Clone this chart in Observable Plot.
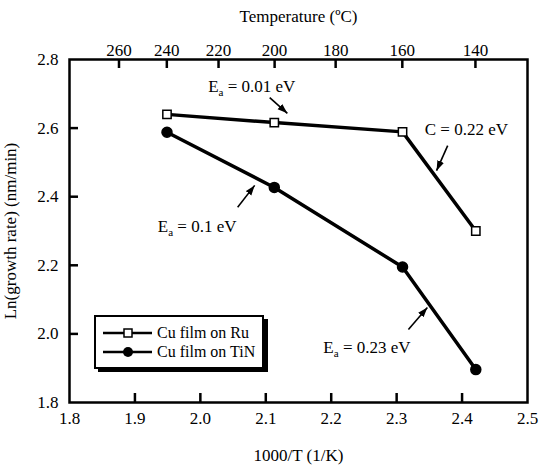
<!DOCTYPE html>
<html>
<head>
<meta charset="utf-8">
<script src="https://cdn.jsdelivr.net/npm/d3@7"></script>
<script src="https://cdn.jsdelivr.net/npm/@observablehq/plot@0.6"></script>
<style>
  html, body { margin: 0; padding: 0; background: #fff; }
  svg, svg text { font-family: "Liberation Serif", "DejaVu Serif", serif !important; }
</style>
</head>
<body>
<div id="chart"></div>
<script>
// ---- data ----
const invT = [1.949, 2.113, 2.309, 2.421];           // 1000/T (1/K)
const ruRate = [2.640, 2.616, 2.589, 2.300];          // Cu film on Ru
const tinRate = [2.588, 2.427, 2.195, 1.896];         // Cu film on TiN
const xTicks = [1.8, 1.9, 2.0, 2.1, 2.2, 2.3, 2.4, 2.5];
const yTicks = [1.8, 2.0, 2.2, 2.4, 2.6, 2.8];
const tempTicks = [260, 240, 220, 200, 180, 160, 140]; // ºC
const seriesNames = ["Cu film on Ru", "Cu film on TiN"];
const annotationText = ["Ea = 0.01 eV", "C = 0.22 eV", "Ea = 0.1 eV", "Ea = 0.23 eV"];
const annotationX = [2.012, 2.343, 1.935, 2.188];
const annotationY = [2.721, 2.596, 2.312, 1.960];
const arrowX1 = [2.106, 2.378, 2.057, 2.318];
const arrowY1 = [2.689, 2.549, 2.369, 2.013];
const arrowX2 = [2.133, 2.361, 2.083, 2.347];
const arrowY2 = [2.643, 2.476, 2.433, 2.077];

// derived tables
const ru = invT.map((x, i) => ({x, y: ruRate[i]}));
const tin = invT.map((x, i) => ({x, y: tinRate[i]}));
const tempX = tempTicks.map(c => 1000 / (c + 273.15));
const notes = annotationText.map((t, i) => ({t, x: annotationX[i], y: annotationY[i]}));
const arrows = arrowX1.map((x1, i) => ({x1, y1: arrowY1[i], x2: arrowX2[i], y2: arrowY2[i]}));

const W = 544, H = 470, ML = 69, MR = 17, MT = 59, MB = 68;
const PW = W - ML - MR, PH = H - MT - MB, TL = 9;
const innerX = xTicks.slice(1, -1), innerY = yTicks.slice(1, -1);
const FONT = "'Liberation Serif', 'DejaVu Serif', serif";
const ns = "http://www.w3.org/2000/svg";

// filled triangular arrowhead marker
function filledHead(color) {
  const m = document.createElementNS(ns, "marker");
  m.setAttribute("viewBox", "-10 -4 10 8");
  m.setAttribute("markerWidth", "10");
  m.setAttribute("markerHeight", "8");
  m.setAttribute("markerUnits", "userSpaceOnUse");
  m.setAttribute("orient", "auto");
  m.setAttribute("refX", "0");
  m.setAttribute("refY", "0");
  const p = document.createElementNS(ns, "path");
  p.setAttribute("d", "M-10,-3.5L0,0L-10,3.5Z");
  p.setAttribute("fill", color);
  p.setAttribute("stroke", "none");
  m.appendChild(p);
  return m;
}

const chart = Plot.plot({
  width: W, height: H,
  marginLeft: ML, marginRight: MR, marginTop: MT, marginBottom: MB,
  style: {fontFamily: FONT, fontSize: "17px", color: "#000", background: "#fff"},
  x: {domain: [1.8, 2.5]},
  y: {domain: [1.8, 2.8]},
  marks: [
    Plot.axisX({anchor: "bottom", ticks: xTicks, tickSize: 0, tickPadding: 9, tickFormat: d3.format(".1f"),
      fontSize: 17, fontFamily: FONT,
      label: "1000/T (1/K)", labelAnchor: "center", labelArrow: "none", labelOffset: 58}),
    Plot.axisX({anchor: "top", ticks: tempX, tickSize: 0, tickPadding: 4,
      fontSize: 17, fontFamily: FONT,
      tickFormat: d => String(Math.round(1000 / d - 273.15)),
      label: "Temperature (ºC)", labelAnchor: "center", labelArrow: "none", labelOffset: 50}),
    Plot.axisY({anchor: "left", ticks: yTicks, tickSize: 0, tickPadding: 11, tickFormat: d3.format(".1f"),
      fontSize: 17, fontFamily: FONT,
      label: "Ln(growth rate) (nm/min)", labelAnchor: "center", labelArrow: "none", labelOffset: 66}),
    Plot.ruleX(innerX, {x: d => d, insetTop: PH - TL, stroke: "#000", strokeWidth: 2.5}),
    Plot.ruleX(tempX, {x: d => d, insetBottom: PH - TL, stroke: "#000", strokeWidth: 2.5}),
    Plot.ruleY(innerY, {y: d => d, insetRight: PW - TL, stroke: "#000", strokeWidth: 2.5}),
    Plot.frame({stroke: "#000", strokeWidth: 2.5}),
    Plot.line(ru, {x: "x", y: "y", stroke: "#000", strokeWidth: 3.5}),
    Plot.line(tin, {x: "x", y: "y", stroke: "#000", strokeWidth: 3.5}),
    Plot.dot(ru, {x: "x", y: "y", symbol: "square", r: 4.7, fill: "#fff", stroke: "#000", strokeWidth: 1.5}),
    Plot.dot(tin, {x: "x", y: "y", r: 5, fill: "#000", stroke: "#000"}),
    Plot.link(arrows, {x1: "x1", y1: "y1", x2: "x2", y2: "y2", stroke: "#000", strokeWidth: 1.6, markerEnd: filledHead}),
    Plot.text(notes, {x: "x", y: "y", text: "t", textAnchor: "start", lineAnchor: "middle", fontSize: 17, fontFamily: FONT, fill: "#000"})
  ]
});

chart.setAttribute("font-family", FONT);
chart.setAttribute("font-size", "17");

// subscripts for E_a
chart.querySelectorAll("text").forEach(t => {
  const s = t.textContent;
  if (s.startsWith("Ea ")) {
    t.textContent = "E";
    const sub = document.createElementNS(ns, "tspan");
    sub.setAttribute("font-size", "11");
    sub.setAttribute("dy", "4");
    sub.textContent = "a";
    t.appendChild(sub);
    const rest = document.createElementNS(ns, "tspan");
    rest.setAttribute("dy", "-4");
    rest.textContent = s.slice(2);
    t.appendChild(rest);
  }
});

// legend (inside plot, lower left)
const svg = d3.select(chart);
const lg = svg.append("g").attr("font-family", FONT).attr("font-size", 16).attr("text-anchor", "start");
lg.append("rect").attr("x", 98).attr("y", 319).attr("width", 170).attr("height", 53).attr("fill", "#000");
lg.append("rect").attr("x", 95).attr("y", 316).attr("width", 168).attr("height", 52)
  .attr("fill", "#fff").attr("stroke", "#000").attr("stroke-width", 2);
seriesNames.forEach((name, i) => {
  const yy = 333 + i * 19;
  lg.append("line").attr("x1", 103).attr("x2", 152).attr("y1", yy).attr("y2", yy)
    .attr("stroke", "#000").attr("stroke-width", 2.5);
  if (i === 0) {
    lg.append("rect").attr("x", 124).attr("y", yy - 4).attr("width", 8).attr("height", 8)
      .attr("fill", "#fff").attr("stroke", "#000").attr("stroke-width", 1.5);
  } else {
    lg.append("circle").attr("cx", 128).attr("cy", yy).attr("r", 5).attr("fill", "#000");
  }
  lg.append("text").attr("x", 157).attr("y", yy).attr("dy", "0.33em").attr("fill", "#000")
    .attr("text-anchor", "start").text(name);
});

document.getElementById("chart").appendChild(chart);
</script>
</body>
</html>
